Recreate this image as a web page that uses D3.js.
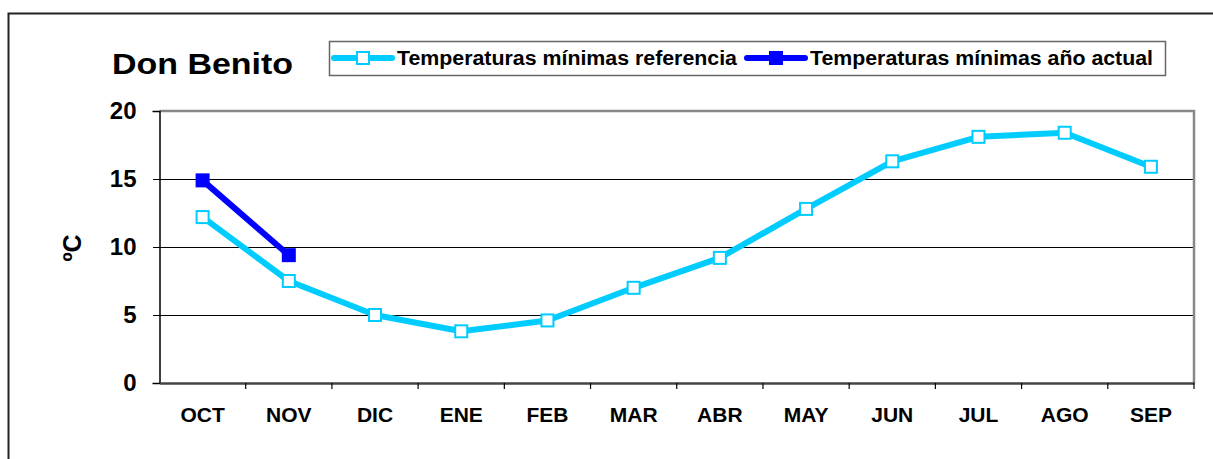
<!DOCTYPE html>
<html>
<head>
<meta charset="utf-8">
<script src="https://cdn.jsdelivr.net/npm/d3@7"></script>
<style>
  body { margin: 0; background: #fff; }
  svg { font-family: "Liberation Sans", Arial, sans-serif; font-weight: bold; }
</style>
</head>
<body>
<div id="chart"></div>
<script>
const months = ['OCT', 'NOV', 'DIC', 'ENE', 'FEB', 'MAR', 'ABR', 'MAY', 'JUN', 'JUL', 'AGO', 'SEP'];
const minRef = [12.2, 7.5, 5.0, 3.8, 4.6, 7.0, 9.2, 12.8, 16.3, 18.1, 18.4, 15.9];
const minActual = [14.9, 9.4];
const yTicks = [0, 5, 10, 15, 20];

const W = 1213, H = 459;
const plot = {left: 159.5, right: 1194, top: 111, bottom: 383};
const FONT = '"Liberation Sans", Arial, sans-serif';

const svg = d3.select('#chart').append('svg')
  .attr('width', W)
  .attr('height', H);

// outer frame (cut off on right/bottom)
svg.append('rect')
  .attr('x', 8.5).attr('y', 13.5)
  .attr('width', W + 20).attr('height', H + 20)
  .attr('fill', 'none')
  .attr('stroke', '#222')
  .attr('stroke-width', 2);

const x = d3.scaleBand()
  .domain(months)
  .range([plot.left, plot.right]);

const y = d3.scaleLinear()
  .domain([0, 20])
  .range([plot.bottom, plot.top]);

// grid lines
svg.append('g')
  .attr('shape-rendering', 'crispEdges')
  .selectAll('line')
  .data(yTicks.filter(d => d > 0 && d < 20))
  .enter().append('line')
  .attr('x1', plot.left).attr('x2', plot.right)
  .attr('y1', d => y(d)).attr('y2', d => y(d))
  .attr('stroke', '#000')
  .attr('stroke-width', 1);

// gray plot border top/right
svg.append('path')
  .attr('d', `M${plot.left},${plot.top}H${plot.right}V${plot.bottom}`)
  .attr('fill', 'none')
  .attr('stroke', '#888')
  .attr('stroke-width', 2.5);

// y axis
const yAxis = svg.append('g')
  .attr('transform', `translate(${plot.left},0)`)
  .call(d3.axisLeft(y).tickValues(yTicks).tickSize(7).tickPadding(16));
yAxis.select('.domain').attr('stroke', '#000').attr('stroke-width', 1.5);
yAxis.selectAll('.tick line').attr('stroke', '#000').attr('shape-rendering', 'crispEdges');
yAxis.selectAll('.tick text')
  .attr('font-size', 24)
  .attr('font-family', FONT)
  .attr('font-weight', 'bold')
  .attr('fill', '#000');

// x axis
const xAxis = svg.append('g')
  .attr('transform', `translate(0,${plot.bottom})`)
  .call(d3.axisBottom(x).tickSize(0).tickPadding(24));
xAxis.select('.domain').attr('stroke', '#444').attr('stroke-width', 2.5);
xAxis.selectAll('.tick text')
  .attr('font-size', 21)
  .attr('font-family', FONT)
  .attr('font-weight', 'bold')
  .attr('fill', '#000');

// x boundary ticks
const bounds = months.map(m => x(m)).concat([plot.right]);
svg.append('g')
  .selectAll('line')
  .data(bounds.slice(1))
  .enter().append('line')
  .attr('x1', d => d).attr('x2', d => d)
  .attr('y1', plot.bottom).attr('y2', plot.bottom + 6)
  .attr('stroke', '#000')
  .attr('stroke-width', 1.2);

const cx = m => x(m) + x.bandwidth() / 2;

const line = d3.line()
  .x((d, i) => cx(months[i]))
  .y(d => y(d));

// reference series
svg.append('path')
  .datum(minRef)
  .attr('d', line)
  .attr('fill', 'none')
  .attr('stroke', '#00CCFF')
  .attr('stroke-width', 6)
  .attr('stroke-linejoin', 'round');

svg.append('g')
  .selectAll('rect')
  .data(minRef)
  .enter().append('rect')
  .attr('x', (d, i) => cx(months[i]) - 6)
  .attr('y', d => y(d) - 6)
  .attr('width', 12).attr('height', 12)
  .attr('fill', '#fff')
  .attr('stroke', '#00CCFF')
  .attr('stroke-width', 2);

// current year series
svg.append('path')
  .datum(minActual)
  .attr('d', line)
  .attr('fill', 'none')
  .attr('stroke', '#0000FF')
  .attr('stroke-width', 6)
  .attr('stroke-linejoin', 'round');

svg.append('g')
  .selectAll('rect')
  .data(minActual)
  .enter().append('rect')
  .attr('x', (d, i) => cx(months[i]) - 7)
  .attr('y', d => y(d) - 7)
  .attr('width', 14).attr('height', 14)
  .attr('fill', '#0000FF');

// title
svg.append('text')
  .attr('x', 112).attr('y', 74)
  .attr('font-size', 30)
  .attr('textLength', 181)
  .attr('lengthAdjust', 'spacingAndGlyphs')
  .text('Don Benito');

// y title
svg.append('text')
  .attr('transform', 'translate(81,248) rotate(-90)')
  .attr('text-anchor', 'middle')
  .attr('font-size', 25)
  .text('ºC');

// legend
const legend = svg.append('g');
legend.append('rect')
  .attr('x', 329.5).attr('y', 41.5)
  .attr('width', 836).attr('height', 34)
  .attr('fill', '#fff')
  .attr('stroke', '#666')
  .attr('stroke-width', 1.5);

const legendItems = [
  {label: 'Temperaturas mínimas referencia', color: '#00CCFF', filled: false, x0: 334, len: 340},
  {label: 'Temperaturas mínimas año actual', color: '#0000FF', filled: true, x0: 747, len: 343}
];

legendItems.forEach(it => {
  legend.append('line')
    .attr('x1', it.x0).attr('x2', it.x0 + 58)
    .attr('y1', 58).attr('y2', 58)
    .attr('stroke', it.color)
    .attr('stroke-width', 6)
    .attr('stroke-linecap', 'round');
  legend.append('rect')
    .attr('x', it.x0 + 29 - 6).attr('y', 52)
    .attr('width', 12).attr('height', 12)
    .attr('fill', it.filled ? it.color : '#fff')
    .attr('stroke', it.color)
    .attr('stroke-width', 2);
  legend.append('text')
    .attr('x', it.x0 + 63).attr('y', 65)
    .attr('font-size', 20)
    .attr('textLength', it.len)
    .attr('lengthAdjust', 'spacingAndGlyphs')
    .text(it.label);
});
</script>
</body>
</html>
